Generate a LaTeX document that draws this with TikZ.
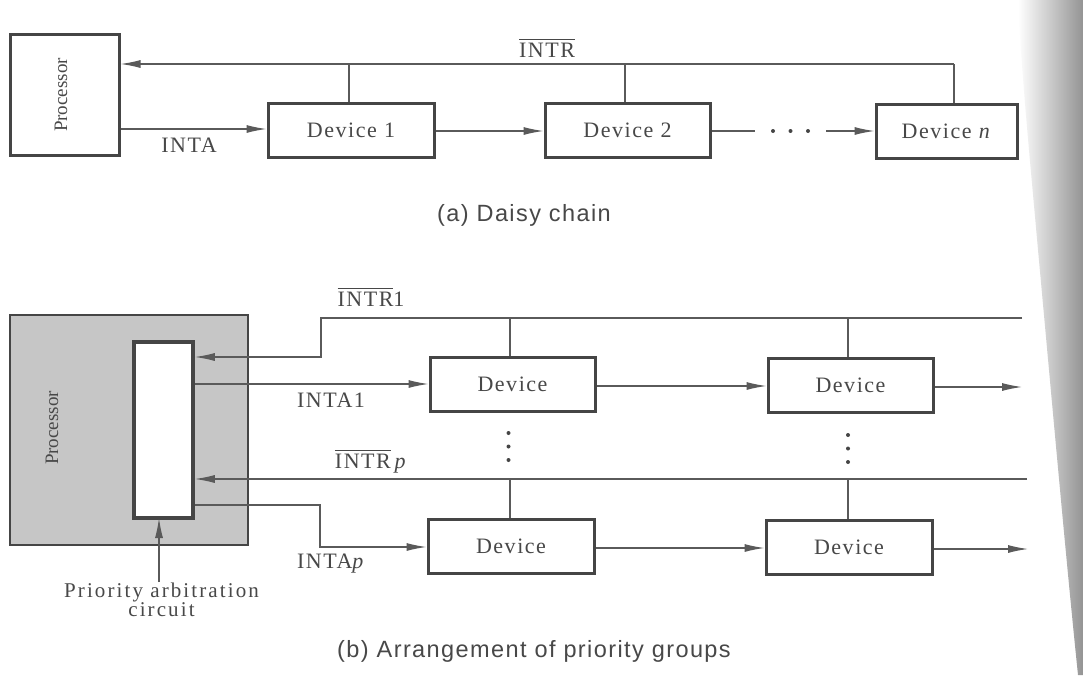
\documentclass[tikz,border=0pt]{standalone}
\usepackage{fontspec}
\setmainfont{Liberation Serif}
\newfontfamily\lblfont[LetterSpace=7]{Liberation Serif}
\newfontfamily\pacfont[LetterSpace=10]{Liberation Serif}
\newfontfamily\procfont{Liberation Serif}
\newfontfamily\capfont[LetterSpace=6]{Liberation Sans}
\usetikzlibrary{arrows.meta}
\definecolor{boxc}{HTML}{454545}
\definecolor{linec}{HTML}{5A5A5A}
\definecolor{txtc}{HTML}{484848}
\definecolor{procfill}{HTML}{C6C6C6}
\newcommand\ovl[1]{\vbox{\hrule height 0.8pt\kern 3pt\hbox{#1}}}
\tikzset{
  devbox/.style={draw=boxc, line width=3pt, fill=white, inner sep=0pt,
    minimum height=54pt, text=txtc, font=\lblfont\fontsize{22}{26}\selectfont},
  wire/.style={draw=linec, line width=1.2pt},
  arr/.style={wire, -{Latex[length=20pt,width=8pt]}},
  lbl/.style={text=txtc, inner sep=0pt, anchor=base, font=\lblfont\fontsize{22}{26}\selectfont},
  paclbl/.style={text=txtc, inner sep=0pt, anchor=base, font=\pacfont\fontsize{21}{24}\selectfont},
  captxt/.style={text=txtc, inner sep=0pt, anchor=base, font=\capfont\fontsize{23.5}{28}\selectfont},
  proclbl/.style={text=txtc, inner sep=0pt, rotate=90, font=\procfont\fontsize{19}{22}\selectfont},
  dotc/.style={fill=boxc, draw=none}
}
\begin{document}
\begin{tikzpicture}[x=1pt,y=-1pt]
\useasboundingbox (0,0) rectangle (1083,675);
\fill[white] (0,0) rectangle (1083,675);
% page curl shading
\shade[left color=white, right color=black!42]
  (1018,0) -- (1083,0) -- (1083,675) -- (1078,675)
  .. controls (1066,560) and (1050,380) .. (1038,250)
  .. controls (1030,160) and (1022,80) .. (1018,0) -- cycle;

%%%%%%%% (a) Daisy chain
\node[devbox, minimum width=109pt, minimum height=121pt] (p) at (64.5,95) {};
\node[proclbl] (plbl) at (61,95) {Processor};
\node[devbox, minimum width=166pt] (d1) at (351,130) {Device 1};
\node[devbox, minimum width=165pt] (d2) at (627.5,130) {Device 2};
\node[devbox, minimum width=141pt] (dn) at (946.5,131) {Device \textit{n}};

\coordinate (bn) at (954,64);
\coordinate (bp) at (p.east |- bn);
\coordinate (b1) at (349,64);
\coordinate (b2) at (625,64);
\draw[arr] (bn) -- (bp);
\draw[wire] (bn) -- (bn |- dn.north);
\draw[wire] (b1) -- (b1 |- d1.north);
\draw[wire] (b2) -- (b2 |- d2.north);
\node[lbl] (intr) at (547,57) {\ovl{INTR}};

\draw[arr] (p.east |- 0,129) -- (d1.west |- 0,129);
\node[lbl] (inta) at (189,152) {INTA};
\draw[arr] (d1.east |- 0,131) -- (d2.west |- 0,131);

\coordinate (dotsend) at (755,131);
\coordinate (dotsstart) at (826,131);
\draw[wire] (d2.east |- dotsend) -- (dotsend);
\fill[dotc] (773,131) circle (2);
\fill[dotc] (790.5,131) circle (2);
\fill[dotc] (808,131) circle (2);
\draw[arr] (dotsstart) -- (dn.west |- dotsstart);

\node[captxt] (capa) at (524,221) {(a) Daisy chain};

%%%%%%%% (b) Priority groups
\node[draw=boxc, line width=1.2pt, fill=procfill, minimum width=238pt, minimum height=230pt, inner sep=0pt] (pb) at (129,430) {};
\node[proclbl] (pblbl) at (52,428) {Processor};
\node[draw=boxc, line width=3.5pt, fill=white, minimum width=59pt, minimum height=176pt, inner sep=0pt] (arb) at (163.5,430) {};

\node[devbox, minimum width=165pt] (r1a) at (512.5,384) {Device};
\node[devbox, minimum width=165pt] (r1b) at (850.5,385) {Device};
\node[devbox, minimum width=166pt] (r2a) at (511,546.5) {Device};
\node[devbox, minimum width=166pt] (r2b) at (849,547.5) {Device};

% INTR1 bus
\coordinate (i1end) at (1022,318);
\coordinate (i1bend) at (321,318);
\coordinate (i1c1) at (510,318);
\coordinate (i1c2) at (848,318);
\draw[arr] (i1end) -- (i1bend) -- (i1bend |- 0,357) -- (arb.east |- 0,357);
\draw[wire] (i1c1) -- (i1c1 |- r1a.north);
\draw[wire] (i1c2) -- (i1c2 |- r1b.north);
\node[lbl] (intr1) at (371,306) {\ovl{INTR}1};

% INTA1
\draw[arr] (arb.east |- 0,384) -- (r1a.west |- 0,384);
\node[lbl] (inta1) at (331,407) {INTA1};

% INTRp bus
\coordinate (ipend) at (1027,479);
\coordinate (ipc1) at (510,479);
\coordinate (ipc2) at (848,479);
\draw[arr] (ipend) -- (arb.east |- ipend);
\draw[wire] (ipc1) -- (ipc1 |- r2a.north);
\draw[wire] (ipc2) -- (ipc2 |- r2b.north);
\node[lbl] (intrp) at (371,468) {\ovl{INTR}\,\textit{p}};

% INTAp
\coordinate (iabend) at (320,505);
\draw[arr] (arb.east |- iabend) -- (iabend) -- (iabend |- 0,547) -- (r2a.west |- 0,547);
\node[lbl] (intap) at (331,568) {INTA\textit{p}};

% chain arrows
\draw[arr] (r1a.east |- 0,386) -- (r1b.west |- 0,386);
\coordinate (o1) at (1022,387);
\draw[arr] (r1b.east |- o1) -- (o1);
\draw[arr] (r2a.east |- 0,548) -- (r2b.west |- 0,548);
\coordinate (o2) at (1028,549);
\draw[arr] (r2b.east |- o2) -- (o2);

% vertical dots
\foreach \yy in {433,446.5,460} \fill[dotc] (508.5,\yy) circle (2);
\foreach \yy in {435,448.5,462} \fill[dotc] (848,\yy) circle (2);

% priority arbitration circuit
\node[paclbl] (pac) at (161.5,597) {Priority arbitration};
\node[paclbl] (pac2) at (161.5,616) {circuit};
\draw[arr] (pac.north -| 159,0) -- (159,518);

\node[captxt] (capb) at (534,657) {(b) Arrangement of priority groups};
\end{tikzpicture}
\end{document}
